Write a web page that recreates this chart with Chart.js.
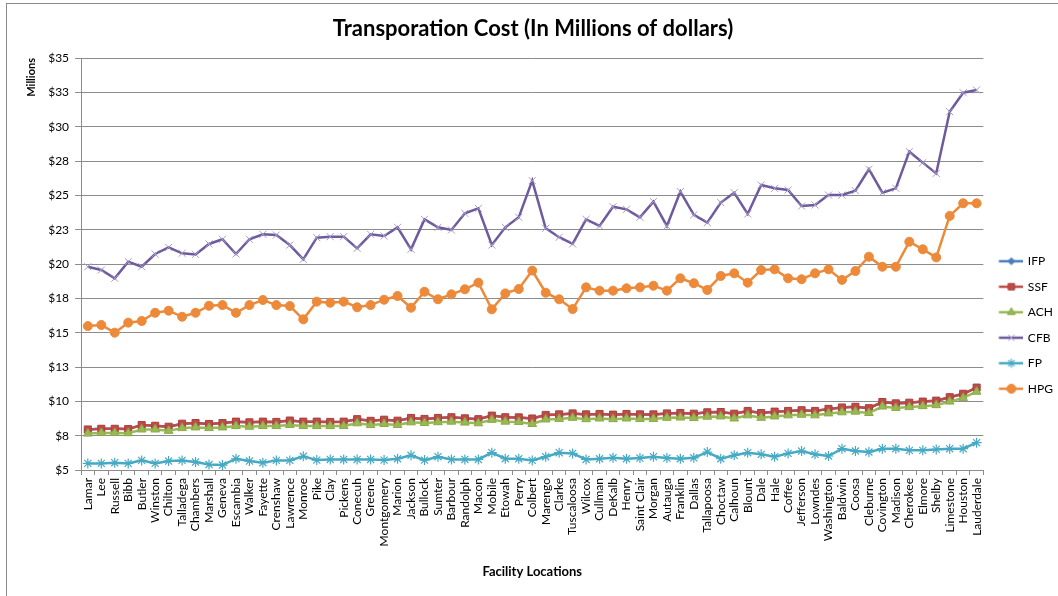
<!DOCTYPE html>
<html>
<head>
<meta charset="utf-8">
<title>Transporation Cost</title>
<script src="https://cdn.jsdelivr.net/npm/chart.js@4.4.1/dist/chart.umd.min.js"></script>
<style>
  html, body { margin: 0; padding: 0; background: #fff; overflow: hidden; }
  #wrap { position: relative; width: 1058px; height: 596px; }
  #frame { position: absolute; left: 6px; top: 3px; width: 1052px; height: 593px;
           border-left: 1px solid #8a8a8a; border-top: 1px solid #8a8a8a; pointer-events: none; }
</style>
</head>
<body>
<div id="wrap">
  <canvas id="chart" width="1058" height="596"></canvas>
  <div id="frame"></div>
</div>
<script>
// Facility locations (county names), in plotted order
const facilities = [
  'Lamar','Lee','Russell','Bibb','Butler','Winston','Chilton','Talladega','Chambers','Marshall',
  'Geneva','Escambia','Walker','Fayette','Crenshaw','Lawrence','Monroe','Pike','Clay','Pickens',
  'Conecuh','Greene','Montgomery','Marion','Jackson','Bullock','Sumter','Barbour','Randolph','Macon',
  'Mobile','Etowah','Perry','Colbert','Marengo','Clarke','Tuscaloosa','Wilcox','Cullman','DeKalb',
  'Henry','Saint Clair','Morgan','Autauga','Franklin','Dallas','Tallapoosa','Choctaw','Calhoun','Blount',
  'Dale','Hale','Coffee','Jefferson','Lowndes','Washington','Baldwin','Coosa','Cleburne','Covington',
  'Madison','Cherokee','Elmore','Shelby','Limestone','Houston','Lauderdale'
];

// Transportation cost per scenario, millions of dollars
const ifpCost = [
  7.95,8.0,8.0,7.98,8.27,8.22,8.15,8.37,8.42,8.35,8.42,8.52,8.47,8.52,8.5,8.6,8.52,8.52,8.5,8.52,8.7,8.58,8.66,
  8.59,8.79,8.72,8.79,8.84,8.76,8.7,8.96,8.84,8.83,8.75,9.01,9.05,9.12,9.05,9.08,9.03,9.08,9.05,9.05,9.12,9.15,9.1,
  9.2,9.22,9.1,9.3,9.15,9.25,9.3,9.35,9.3,9.45,9.55,9.6,9.5,9.95,9.85,9.9,9.98,10.05,10.3,10.55,11.0
];
const ssfCost = [
  7.95,8.0,8.0,7.98,8.27,8.22,8.15,8.37,8.42,8.35,8.42,8.52,8.47,8.52,8.5,8.6,8.52,8.52,8.5,8.52,8.7,8.58,8.66,
  8.59,8.79,8.72,8.79,8.84,8.76,8.7,8.96,8.84,8.83,8.75,9.01,9.05,9.12,9.05,9.08,9.03,9.08,9.05,9.05,9.12,9.15,9.1,
  9.2,9.22,9.1,9.3,9.15,9.25,9.3,9.35,9.3,9.45,9.55,9.6,9.5,9.95,9.85,9.9,9.98,10.05,10.3,10.55,11.0
];
const achCost = [
  7.65,7.7,7.7,7.68,7.95,7.95,7.85,8.05,8.1,8.05,8.1,8.2,8.15,8.2,8.2,8.28,8.2,8.2,8.2,8.2,8.4,8.27,8.35,
  8.28,8.47,8.42,8.48,8.52,8.45,8.4,8.65,8.52,8.5,8.35,8.68,8.72,8.8,8.7,8.75,8.7,8.75,8.72,8.72,8.8,8.82,8.78,
  8.88,8.9,8.75,8.98,8.8,8.9,8.98,9.02,8.98,9.12,9.2,9.25,9.15,9.62,9.52,9.58,9.65,9.72,9.98,10.25,10.7
];
const cfbCost = [
  19.8,19.56,18.96,20.17,19.8,20.73,21.21,20.78,20.7,21.46,21.8,20.73,21.8,22.16,22.11,21.38,20.34,21.92,21.99,21.99,21.14,22.16,22.04,
  22.67,21.07,23.25,22.67,22.48,23.69,24.05,21.38,22.67,23.4,26.07,22.6,21.95,21.46,23.25,22.77,24.17,23.98,23.4,24.54,22.77,25.27,23.58,
  23.01,24.47,25.19,23.64,25.75,25.51,25.39,24.22,24.3,25.02,25.02,25.34,26.9,25.19,25.51,28.18,27.38,26.6,31.09,32.47,32.67
];
const fpCost = [
  5.48,5.48,5.53,5.48,5.7,5.48,5.65,5.7,5.58,5.4,5.36,5.82,5.65,5.53,5.7,5.7,6.0,5.72,5.77,5.77,5.77,5.77,5.72,
  5.82,6.07,5.72,5.97,5.77,5.77,5.77,6.26,5.82,5.82,5.7,5.97,6.26,6.21,5.77,5.82,5.89,5.82,5.87,5.97,5.87,5.82,5.89,
  6.31,5.82,6.07,6.26,6.14,5.97,6.21,6.38,6.14,6.02,6.55,6.38,6.31,6.55,6.55,6.43,6.43,6.5,6.55,6.55,6.99
];
const hpgCost = [
  15.48,15.56,15.0,15.73,15.85,16.45,16.6,16.16,16.45,16.96,17.01,16.45,17.01,17.38,17.01,16.94,15.97,17.26,17.18,17.26,16.85,17.01,17.4,
  17.67,16.82,17.98,17.43,17.79,18.16,18.64,16.7,17.86,18.18,19.52,17.91,17.43,16.72,18.3,18.06,18.06,18.23,18.3,18.42,18.06,18.96,18.6,
  18.11,19.13,19.32,18.64,19.56,19.61,18.96,18.89,19.32,19.61,18.84,19.49,20.53,19.8,19.8,21.62,21.07,20.48,23.5,24.42,24.42
];

// Value axis range
const axisMin = 5;
const axisMax = 35;
const axisStep = 2.5;

// Look of each series: line colour, marker and draw order (later series on top)
const series = [
  { label: 'IFP', data: ifpCost, line: '#4A7EBB', fill: '#4A7EBB', edge: '#4A7EBB', marker: 'rectRot', size: 3.5, edgeWidth: 1, order: 6 },
  { label: 'SSF', data: ssfCost, line: '#BE4B48', fill: '#BE4B48', edge: '#A8403D', marker: 'rect', size: 5, edgeWidth: 1, order: 5 },
  { label: 'ACH', data: achCost, line: '#98B954', fill: '#98B954', edge: '#8AAA48', marker: 'triangle', size: 5, edgeWidth: 1, order: 4 },
  { label: 'CFB', data: cfbCost, line: '#6E5A9C', fill: '#A69BC6', edge: '#A69BC6', marker: 'crossRot', size: 5, edgeWidth: 1, order: 3 },
  { label: 'FP',  data: fpCost,  line: '#46AAC5', fill: '#46AAC5', edge: '#46AAC5', marker: 'star', size: 5, edgeWidth: 1.2, order: 2 },
  { label: 'HPG', data: hpgCost, line: '#EC8A3A', fill: '#EC8A3A', edge: '#EC8A3A', marker: 'circle', size: 4.5, edgeWidth: 1, order: 1 }
];

// Small line-with-marker swatches for the legend
function legendSwatch(s) {
  const c = document.createElement('canvas');
  c.width = 36; c.height = 12;
  const g = c.getContext('2d');
  g.strokeStyle = s.line; g.lineWidth = 2.5;
  g.beginPath(); g.moveTo(11.5, 6); g.lineTo(36, 6); g.stroke();
  g.fillStyle = s.fill; g.strokeStyle = s.edge; g.lineWidth = s.edgeWidth;
  Chart.helpers.drawPoint(g, { pointStyle: s.marker, radius: Math.min(s.size, 4.5), borderWidth: s.edgeWidth, rotation: 0 }, 24, 6);
  return c;
}

// Moves the legend block so it sits lower and closer to the plot
const legendShift = {
  id: 'legendShift',
  afterLayout(chart) {
    const lg = chart.legend;
    if (lg) { lg.top += 33; lg.bottom += 33; lg.left -= 8; lg.right -= 8; }
  }
};

const baseFont = 'Lato, "Open Sans", sans-serif';

new Chart(document.getElementById('chart'), {
  type: 'line',
  data: {
    labels: facilities,
    datasets: series.map(s => ({
      label: s.label,
      data: s.data,
      order: s.order,
      borderColor: s.line,
      backgroundColor: s.fill,
      borderWidth: 2.5,
      tension: 0,
      fill: false,
      pointStyle: s.marker,
      pointRadius: s.size,
      pointBackgroundColor: s.fill,
      pointBorderColor: s.edge,
      pointBorderWidth: s.edgeWidth
    }))
  },
  options: {
    responsive: false,
    animation: false,
    devicePixelRatio: 1,
    layout: { padding: { left: -5, right: -13, top: 4, bottom: 16 } },
    plugins: {
      title: {
        display: true,
        text: 'Transporation Cost (In Millions of dollars)',
        color: '#000',
        font: { family: baseFont, size: 22, weight: 'bold' },
        padding: { top: 12, bottom: 15.6 }
      },
      legend: {
        position: 'right',
        align: 'center',
        labels: {
          usePointStyle: true,
          pointStyleWidth: 33,
          padding: 13.5,
          color: '#000',
          font: { family: baseFont, size: 12 },
          generateLabels(chart) {
            return chart.data.datasets.map((ds, i) => ({
              text: ds.label,
              pointStyle: legendSwatch(series[i]),
              fillStyle: 'rgba(0,0,0,0)',
              strokeStyle: 'rgba(0,0,0,0)',
              lineWidth: 0,
              hidden: false,
              datasetIndex: i,
              fontColor: '#000'
            }));
          }
        }
      },
      tooltip: { enabled: false }
    },
    scales: {
      x: {
        type: 'category',
        offset: true,
        afterFit(scale) { scale.height = 110; },
        grid: { display: true, drawOnChartArea: false, offset: true, tickLength: 5, color: '#8c8c8c' },
        border: { color: '#8c8c8c', width: 1 },
        ticks: {
          autoSkip: false, minRotation: 90, maxRotation: 90, padding: 3,
          color: '#000', font: { family: baseFont, size: 12 }
        },
        title: {
          display: true, text: 'Facility Locations', color: '#000',
          font: { family: baseFont, size: 13, weight: 'bold' },
          padding: { top: 16, bottom: 0 }
        }
      },
      y: {
        min: axisMin,
        max: axisMax,
        grid: { color: '#8c8c8c', tickLength: 6 },
        border: { color: '#8c8c8c', width: 1 },
        ticks: {
          stepSize: axisStep, padding: 6, color: '#000',
          font: { family: baseFont, size: 12 },
          callback: v => '$' + Math.round(v)
        },
        title: {
          display: true, text: 'Millions', align: 'end', color: '#000',
          font: { family: baseFont, size: 11, weight: 'bold' },
          padding: { top: 30, bottom: 4 }
        }
      }
    }
  },
  plugins: [legendShift]
});
</script>
</body>
</html>
